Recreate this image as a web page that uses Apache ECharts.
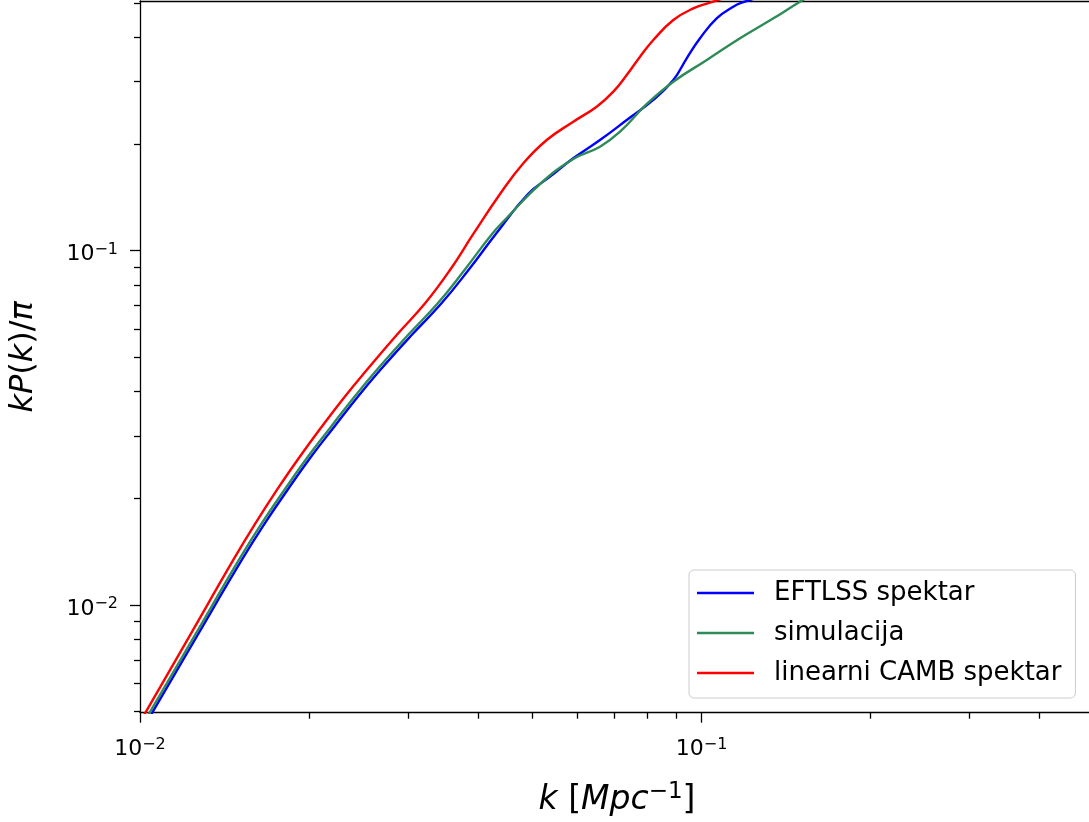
<!DOCTYPE html>
<html><head><meta charset="utf-8">
<script src="https://cdn.jsdelivr.net/npm/echarts@6/dist/echarts.min.js"></script>
<style>html,body{margin:0;padding:0;background:#fff}#c{width:1089px;height:822px}</style>
</head><body><div id="c"></div>
<script>
// ---- data ----
const eftK = [0.01027, 0.01054, 0.01266, 0.01518, 0.01668, 0.01836, 0.02015, 0.02218, 0.02435, 0.02678, 0.03047, 0.03443, 0.03846, 0.04302, 0.04909, 0.05373, 0.05910, 0.06594, 0.07359, 0.08207, 0.08908, 0.09411, 0.09939, 0.1064, 0.1139, 0.1179, 0.1271];
const eftV = [0.004670, 0.004998, 0.008223, 0.01340, 0.01699, 0.02126, 0.02616, 0.03186, 0.03848, 0.04605, 0.05782, 0.07104, 0.08821, 0.1115, 0.1446, 0.1618, 0.1823, 0.2053, 0.2338, 0.2664, 0.3032, 0.3492, 0.3977, 0.4528, 0.4884, 0.5012, 0.5201];

const simK = [0.01017, 0.01043, 0.01253, 0.01500, 0.01647, 0.01813, 0.01989, 0.02189, 0.02402, 0.02640, 0.03001, 0.03391, 0.03784, 0.04236, 0.04499, 0.05157, 0.05910, 0.06594, 0.07160, 0.07991, 0.08908, 0.1022, 0.1171, 0.1343, 0.1487, 0.1593];
const simV = [0.004670, 0.004998, 0.008223, 0.01340, 0.01699, 0.02126, 0.02616, 0.03186, 0.03848, 0.04605, 0.05782, 0.07104, 0.08821, 0.1115, 0.1237, 0.1543, 0.1815, 0.1966, 0.2167, 0.2595, 0.2999, 0.3454, 0.3977, 0.4528, 0.5012, 0.5338];

const camK = [0.01000, 0.01025, 0.01228, 0.01466, 0.01605, 0.01758, 0.01924, 0.02107, 0.02308, 0.02534, 0.02865, 0.03219, 0.03565, 0.03923, 0.04377, 0.04816, 0.05301, 0.05910, 0.06506, 0.06966, 0.07359, 0.07771, 0.08207, 0.08908, 0.09669, 0.1035, 0.1124];
const camV = [0.004670, 0.004998, 0.008223, 0.01340, 0.01699, 0.02126, 0.02616, 0.03186, 0.03848, 0.04605, 0.05782, 0.07104, 0.08821, 0.1115, 0.1446, 0.1765, 0.2053, 0.2312, 0.2550, 0.2811, 0.3132, 0.3528, 0.3933, 0.4478, 0.4832, 0.5012, 0.5235];

const seriesNames = ['EFTLSS spektar', 'simulacija', 'linearni CAMB spektar'];

const xMin = 0.01, xMax = 0.5;
const yMin = 0.004966, yMax = 0.5068;
const xMajor = [0.01, 0.1];
const xMajorExp = ['\u22122', '\u22121'];
const xMinor = [0.02, 0.03, 0.04, 0.05, 0.06, 0.07, 0.08, 0.09, 0.2, 0.3, 0.4];
const yMajor = [0.01, 0.1];
const yMajorExp = ['\u22122', '\u22121'];
const yMinor = [0.005, 0.006, 0.007, 0.008, 0.009, 0.02, 0.03, 0.04, 0.05, 0.06, 0.07, 0.08, 0.09, 0.2, 0.3, 0.4, 0.5];

// ---- chart ----
const FONT = 'DejaVu Sans';
const INK = '#000';
function pairs(k, v) { return k.map((x, i) => [x, v[i]]); }
function expLabel(ticks, exps) {
  return function (val) {
    const i = ticks.findIndex(t => Math.abs(Math.log10(t) - Math.log10(val)) < 1e-6);
    return i < 0 ? '' : '{b|10}{s|' + exps[i] + '}';
  };
}
const tickRich = {
  b: { fontFamily: FONT, fontSize: 22, lineHeight: 24, color: INK, verticalAlign: 'bottom' },
  s: { fontFamily: FONT, fontSize: 16, lineHeight: 16, color: INK, verticalAlign: 'top' }
};
const spine = { show: true, onZero: false, lineStyle: { color: INK, width: 1.3 } };
const tickLine = { color: INK, width: 1.3 };
const LW = 2.4;

const chart = echarts.init(document.getElementById('c'), null, { renderer: 'canvas' });
chart.setOption({
  animation: false,
  backgroundColor: '#fff',
  grid: { left: 140, right: -5, top: 1, bottom: 109.3, containLabel: false, outerBoundsMode: 'none' },
  legend: {
    data: seriesNames,
    orient: 'vertical',
    left: 689, top: 570,
    icon: 'rect',
    itemWidth: 57, itemHeight: 2.5, itemGap: 10,
    padding: [8, 14, 10, 8],
    borderColor: '#cccccc', borderWidth: 1, borderRadius: 5,
    backgroundColor: 'rgba(255,255,255,0.8)',
    selectedMode: false,
    textStyle: { fontFamily: FONT, fontSize: 26, lineHeight: 30, color: INK, padding: [0, 0, 0, 15] }
  },
  xAxis: [
    {
      type: 'log', min: xMin, max: xMax, position: 'bottom',
      axisLine: spine,
      axisTick: { show: true, customValues: xMajor, length: 10, lineStyle: tickLine },
      axisLabel: { show: true, customValues: xMajor, margin: 24, formatter: expLabel(xMajor, xMajorExp), rich: tickRich },
      splitLine: { show: false }, minorTick: { show: false }, minorSplitLine: { show: false },
      name: '{i|k }{n|[}{i|Mpc}{s|\u22121}{n|]}',
      nameLocation: 'middle', nameGap: 68,
      nameTextStyle: {
        rich: {
          i: { fontFamily: FONT, fontStyle: 'italic', fontSize: 33, lineHeight: 36, color: INK, verticalAlign: 'bottom' },
          n: { fontFamily: FONT, fontSize: 33, lineHeight: 36, color: INK, verticalAlign: 'bottom' },
          s: { fontFamily: FONT, fontSize: 23, lineHeight: 22, color: INK, verticalAlign: 'top' }
        }
      }
    },
    {
      type: 'log', min: xMin, max: xMax, position: 'bottom',
      axisLine: { show: false },
      axisTick: { show: true, customValues: xMinor, length: 6, lineStyle: tickLine },
      axisLabel: { show: false }, splitLine: { show: false }
    },
    {
      type: 'log', min: xMin, max: xMax, position: 'top',
      axisLine: spine, axisTick: { show: false }, axisLabel: { show: false }, splitLine: { show: false }
    }
  ],
  yAxis: [
    {
      type: 'log', min: yMin, max: yMax, position: 'left',
      axisLine: spine,
      axisTick: { show: true, customValues: yMajor, length: 10, lineStyle: tickLine },
      axisLabel: { show: true, customValues: yMajor, margin: 22, padding: [6, 0, 0, 0], formatter: expLabel(yMajor, yMajorExp), rich: tickRich },
      splitLine: { show: false }, minorTick: { show: false }, minorSplitLine: { show: false },
      name: '{i|kP}{n|(}{i|k}{n|)/}{i|\u03c0}',
      nameLocation: 'middle', nameGap: 98,
      nameTextStyle: {
        rich: {
          i: { fontFamily: FONT, fontStyle: 'italic', fontSize: 32, lineHeight: 36, color: INK },
          n: { fontFamily: FONT, fontSize: 32, lineHeight: 36, color: INK }
        }
      }
    },
    {
      type: 'log', min: yMin, max: yMax, position: 'left',
      axisLine: { show: false },
      axisTick: { show: true, customValues: yMinor, length: 6, lineStyle: tickLine },
      axisLabel: { show: false }, splitLine: { show: false }
    }
  ],
  series: [
    { name: seriesNames[0], type: 'line', xAxisIndex: 0, yAxisIndex: 0, data: pairs(eftK, eftV),
      symbol: 'none', showSymbol: false, smooth: 0.45, clip: true,
      lineStyle: { color: '#0000ff', width: LW }, itemStyle: { color: '#0000ff' } },
    { name: seriesNames[1], type: 'line', xAxisIndex: 0, yAxisIndex: 0, data: pairs(simK, simV),
      symbol: 'none', showSymbol: false, smooth: 0.45, clip: true,
      lineStyle: { color: '#2e8b57', width: LW }, itemStyle: { color: '#2e8b57' } },
    { name: seriesNames[2], type: 'line', xAxisIndex: 0, yAxisIndex: 0, data: pairs(camK, camV),
      symbol: 'none', showSymbol: false, smooth: 0.45, clip: true,
      lineStyle: { color: '#ff0000', width: LW }, itemStyle: { color: '#ff0000' } }
  ]
});
</script>
</body></html>
